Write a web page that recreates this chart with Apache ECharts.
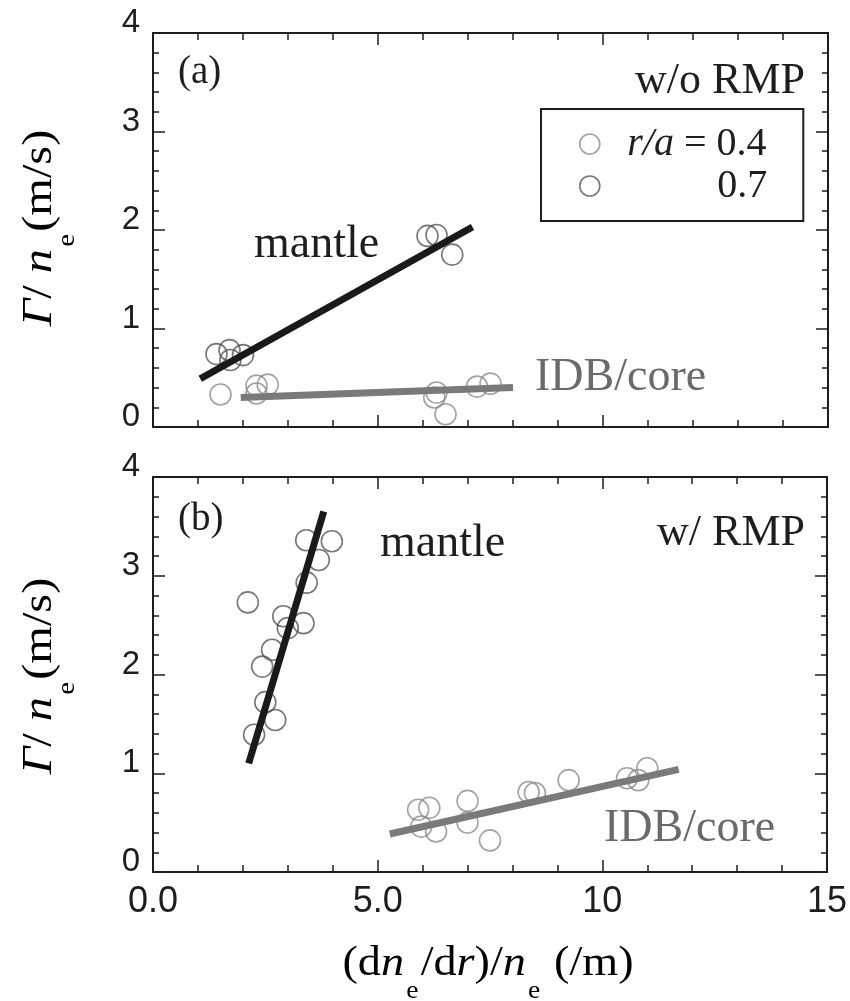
<!DOCTYPE html>
<html>
<head>
<meta charset="utf-8">
<script src="https://cdn.jsdelivr.net/npm/echarts@6/dist/echarts.min.js"></script>
<style>
html, body { margin: 0; background: #fff; }
#chart { width: 850px; height: 1001px; }
</style>
</head>
<body>
<div id="chart"></div>
<script>
// panel (a): without RMP
var coreA = [[1.5, 0.33], [2.3, 0.42], [2.55, 0.43], [2.3, 0.34], [6.3, 0.35], [6.25, 0.30], [6.5, 0.13], [7.2, 0.41], [7.5, 0.44]];
var mantleA = [[1.41, 0.74], [1.7, 0.78], [2.0, 0.73], [1.72, 0.68], [6.1, 1.94], [6.3, 1.95], [6.65, 1.75]];
var fitMantleA = [[1.05, 0.49], [7.1, 2.03]];
var fitCoreA = [[1.95, 0.30], [8.0, 0.40]];

// panel (b): with RMP
var mantleB = [[2.11, 2.73], [2.25, 1.39], [2.5, 1.72], [2.72, 1.54], [2.43, 2.08], [2.65, 2.25], [2.9, 2.59], [3.0, 2.47], [3.35, 2.52], [3.42, 2.93], [3.41, 3.36], [3.69, 3.16], [3.98, 3.35]];
var coreB = [[5.9, 0.63], [6.15, 0.65], [5.97, 0.46], [6.3, 0.41], [7.0, 0.72], [7.0, 0.50], [7.5, 0.32], [8.36, 0.81], [8.5, 0.80], [9.25, 0.93], [10.55, 0.95], [10.8, 0.93], [11.0, 1.05]];
var fitMantleB = [[2.13, 1.10], [3.8, 3.65]];
var fitCoreB = [[5.27, 0.385], [11.7, 1.04]];

var xRange = [0, 15];
var yRange = [0, 4];
var seriesNames = ['r/a = 0.4', '0.7'];

var SERIF = "'Liberation Serif', 'Times New Roman', serif";
var SANS = "'Liberation Sans', Arial, sans-serif";
var INK = '#1e1e1e';

var chart = echarts.init(document.getElementById('chart'));

function xAxis(grid, pos, labels) {
    return {
        type: 'value', gridIndex: grid, position: pos,
        min: xRange[0], max: xRange[1], interval: 5,
        axisLine: { show: true, onZero: false, lineStyle: { color: INK, width: 2 } },
        axisTick: { show: true, inside: true, length: 12, lineStyle: { color: INK, width: 1.5 } },
        minorTick: { show: true, splitNumber: 5, length: 7, lineStyle: { color: INK, width: 1.5 } },
        splitLine: { show: false },
        axisLabel: {
            show: labels, margin: 13, color: INK, fontFamily: SANS, fontSize: 36, lineHeight: 34,
            formatter: function (v) { return v < 10 ? v.toFixed(1) : String(v); }
        }
    };
}

function yAxis(grid, pos, labels) {
    return {
        type: 'value', gridIndex: grid, position: pos,
        min: yRange[0], max: yRange[1], interval: 1,
        axisLine: { show: true, onZero: false, lineStyle: { color: INK, width: 2 } },
        axisTick: { show: true, inside: true, length: 12, lineStyle: { color: INK, width: 1.5 } },
        minorTick: { show: true, splitNumber: 5, length: 6, lineStyle: { color: INK, width: 1.5 } },
        splitLine: { show: false },
        axisLabel: {
            show: labels, margin: 13, color: INK, fontFamily: SANS, fontSize: 33,
            verticalAlign: 'bottom', lineHeight: 20
        }
    };
}

function dots(name, data, xi, color) {
    return {
        name: name, type: 'scatter', xAxisIndex: xi, yAxisIndex: xi, data: data,
        symbol: 'circle', symbolSize: 21, z: 2,
        itemStyle: { color: 'rgba(0,0,0,0)', borderColor: color, borderWidth: 1.6 }
    };
}

function fit(data, xi, color) {
    return {
        type: 'line', xAxisIndex: xi, yAxisIndex: xi, data: data, showSymbol: false, z: 3,
        lineStyle: { color: color, width: 7 }
    };
}

var titleRich = {
    r: { fontFamily: SERIF, fontSize: 42, lineHeight: 42, color: INK },
    i: { fontFamily: SERIF, fontSize: 42, lineHeight: 42, fontStyle: 'italic', color: INK },
    s: { fontFamily: SERIF, fontSize: 25, lineHeight: 25, color: INK, padding: [54, 2, 0, 2] }
};

function label(x, y, text, opts) {
    return {
        type: 'text', x: x, y: y, silent: true,
        style: Object.assign({
            text: text, fontFamily: SERIF, fontSize: 42, fill: INK,
            align: 'left', verticalAlign: 'middle'
        }, opts || {})
    };
}

function title(x, y, text, rot, sx) {
    return {
        type: 'text', x: x, y: y, rotation: rot, scaleX: sx, silent: true,
        style: { text: text, rich: titleRich, align: 'center', verticalAlign: 'middle' }
    };
}

var yTitle = '{i|Γ}{r|/ }{i|n}{s|e}{r|(m/s)}';

var option = {
    animation: false,
    backgroundColor: '#fff',
    grid: [
        { left: 153, top: 33, right: 22, height: 394 },
        { left: 153, top: 477, right: 23, height: 395 }
    ],
    xAxis: [xAxis(0, 'bottom', false), xAxis(0, 'top', false), xAxis(1, 'bottom', true), xAxis(1, 'top', false)],
    yAxis: [yAxis(0, 'left', true), yAxis(0, 'right', false), yAxis(1, 'left', true), yAxis(1, 'right', false)],
    legend: {
        orient: 'vertical', left: 541, top: 109,
        padding: [15, 36, 15, 38], itemGap: 2,
        borderColor: INK, borderWidth: 2,
        itemWidth: 21, itemHeight: 20,
        data: [
            { name: seriesNames[0], icon: 'circle', itemStyle: { color: 'rgba(0,0,0,0)', borderColor: '#8c8c8c', borderWidth: 1.6 } },
            { name: seriesNames[1], icon: 'circle', itemStyle: { color: 'rgba(0,0,0,0)', borderColor: '#555', borderWidth: 1.6 } }
        ],
        formatter: function (name) {
            return name === seriesNames[0] ? '{g|}{i|r/a}{t| = 0.4}' : '{g|}{p|}{t|0.7}';
        },
        textStyle: {
            rich: {
                g: { width: 22 },
                p: { width: 90 },
                t: { fontFamily: SERIF, fontSize: 40, lineHeight: 40, color: INK },
                i: { fontFamily: SERIF, fontSize: 40, lineHeight: 40, fontStyle: 'italic', color: INK }
            }
        }
    },
    series: [
        dots(seriesNames[0], coreA, 0, '#8c8c8c'),
        dots(seriesNames[1], mantleA, 0, '#555'),
        fit(fitMantleA, 0, '#1a1a1a'),
        fit(fitCoreA, 0, '#7a7a7a'),
        dots(seriesNames[0], coreB, 2, '#8c8c8c'),
        dots(seriesNames[1], mantleB, 2, '#555'),
        fit(fitMantleB, 2, '#1a1a1a'),
        fit(fitCoreB, 2, '#7a7a7a')
    ],
    graphic: [
        label(178, 73, '(a)', { fontSize: 39 }),
        label(805, 81, 'w/o RMP', { align: 'right', fontSize: 44 }),
        label(254, 245, 'mantle', { fontSize: 46 }),
        label(535, 378, 'IDB/core', { fontSize: 46, fill: '#6a6a6a' }),
        label(178, 520, '(b)', { fontSize: 39 }),
        label(805, 533, 'w/ RMP', { align: 'right', fontSize: 44 }),
        label(380, 544, 'mantle', { fontSize: 46 }),
        label(604, 829, 'IDB/core', { fontSize: 46, fill: '#6a6a6a' }),
        title(40, 228, yTitle, Math.PI / 2, 1.15),
        title(40, 676, yTitle, Math.PI / 2, 1.15),
        title(488, 964, '{r|(d}{i|n}{s|e}{r|/d}{i|r}{r|)/}{i|n}{s|e}{r| (/m)}', 0, 1.1)
    ]
};

chart.setOption(option);
</script>
</body>
</html>
